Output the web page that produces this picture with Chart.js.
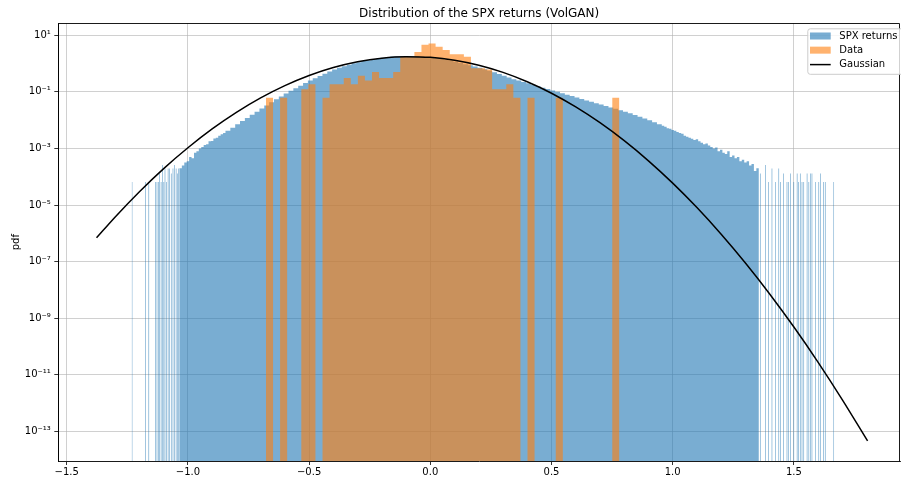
<!DOCTYPE html>
<html><head><meta charset="utf-8">
<script src="https://cdn.jsdelivr.net/npm/chart.js@4/dist/chart.umd.min.js"></script>
<style>html,body{margin:0;padding:0;background:#fff;}canvas{display:block;}</style>
</head><body>
<canvas id="c" width="901" height="481" style="width:901px;height:481px"></canvas>
<script>
// ---------------- data ----------------
const title = 'Distribution of the SPX returns (VolGAN)';
const seriesLabels = ['SPX returns', 'Data', 'Gaussian'];
const xTicks = [-1.5, -1.0, -0.5, 0.0, 0.5, 1.0, 1.5];
const yTickExponents = [-13, -11, -9, -7, -5, -3, -1, 1];

// SPX returns (VolGAN) histogram: isolated left-tail bins
const leftTailX = [-1.232,-1.176,-1.163,-1.1345,-1.129,-1.123,-1.118,-1.112,-1.107,-1.101,-1.096,-1.090,-1.083,-1.077,-1.070,-1.063,-1.057,-1.050,-1.045,-1.040];
const leftTailY = [6.5e-5,6.5e-5,6.5e-5,6.5e-5,6.5e-5,6.5e-5,1.3e-4,6.5e-5,2.6e-4,6.5e-5,1.95e-4,6.5e-5,1.95e-4,1.95e-4,1.3e-4,1.95e-4,2.6e-4,1.95e-4,1.3e-4,1.95e-4];
// main body: bin left edges and densities
const bodyX = [
 -1.035,-1.025,-1.015,-1.005,-0.995,-0.985,-0.975,-0.965,-0.955,-0.945,-0.935,-0.925,-0.915,-0.905,-0.895,-0.885,-0.875,-0.865,-0.855,
 -0.845,-0.825,-0.805,-0.785,-0.765,-0.745,-0.725,-0.705,-0.685,-0.665,-0.645,-0.625,-0.605,-0.585,-0.565,-0.545,-0.525,-0.505,-0.485,-0.465,
 -0.445,-0.425,-0.405,-0.385,-0.365,-0.345,-0.325,-0.305,-0.285,-0.265,-0.245,-0.225,-0.205,-0.185,-0.165,-0.145,-0.125,-0.105,-0.085,-0.065,
 -0.045,-0.025,-0.005,0.015,0.035,0.055,0.075,0.095,0.115,0.135,0.155,0.175,0.195,0.215,0.235,0.255,0.275,0.295,0.315,0.335,
 0.355,0.375,0.395,0.415,0.435,0.455,0.475,0.495,0.515,0.535,0.555,0.575,0.595,0.615,0.635,0.655,0.675,0.695,0.715,0.735,
 0.755,0.775,0.795,0.815,0.835,0.855,0.875,0.895,0.915,0.935,
 0.955,0.965,0.975,0.985,0.995,1.005,1.015,1.025,1.035,1.045,1.055,1.065,1.075,1.085,1.095,1.105,1.115,1.125,1.135,1.145,
 1.155,1.165,1.175,1.185,1.195,1.205,1.215,1.225,1.235,1.245,1.255,1.265,1.275,1.285,1.295,1.305,1.315,1.325,1.335,1.345];
const bodyY = [
 2.0e-4,2.5e-4,3.2e-4,3.5e-4,5.0e-4,4.5e-4,7.1e-4,7.9e-4,1.0e-3,1.12e-3,1.32e-3,1.41e-3,1.78e-3,1.82e-3,2.24e-3,2.4e-3,2.8e-3,3.2e-3,3.5e-3,
 4.2e-3,5.4e-3,7.1e-3,9.3e-3,0.012,0.0155,0.020,0.0257,0.033,0.0427,0.055,0.069,0.087,0.11,0.135,0.166,0.204,0.25,0.30,0.363,
 0.437,0.525,0.617,0.71,0.81,0.91,1.02,1.12,1.23,1.32,1.43,1.51,1.62,1.70,1.78,1.82,1.86,1.86,1.86,1.84,
 1.78,1.72,1.62,1.53,1.45,1.35,1.26,1.15,1.05,0.955,0.87,0.79,0.71,0.63,0.56,0.49,0.427,0.372,0.324,0.282,
 0.251,0.224,0.2,0.178,0.158,0.141,0.126,0.112,0.1,0.089,0.079,0.071,0.063,0.056,0.050,0.0447,0.0398,0.0355,0.0316,0.0282,
 0.0251,0.0224,0.02,0.0174,0.0151,0.0132,0.0115,0.01,0.0085,0.0072,
 6.3e-3,5.8e-3,5.2e-3,5.0e-3,4.5e-3,4.2e-3,3.8e-3,3.5e-3,3.3e-3,2.8e-3,2.6e-3,2.4e-3,2.2e-3,2.0e-3,2.1e-3,1.8e-3,1.6e-3,1.4e-3,1.5e-3,1.26e-3,
 1.12e-3,1.0e-3,1.07e-3,7.9e-4,8.9e-4,7.1e-4,6.3e-4,7.9e-4,5.0e-4,5.6e-4,4.5e-4,5.0e-4,3.5e-4,4.0e-4,3.2e-4,3.5e-4,2.5e-4,2.8e-4,1.6e-4,2.0e-4];
const bodyEnd = 1.355;
// isolated right-tail bins
const rightTailX = [1.360,1.381,1.394,1.408,1.422,1.436,1.443,1.456,1.470,1.477,1.484,1.498,1.512,1.518,1.525,1.532,1.539,1.553,1.560,1.567,1.573,1.587,1.601,1.608,1.621,1.628,1.663];
const rightTailY = [1.3e-4,2.6e-4,6.5e-5,1.95e-4,6.5e-5,1.95e-4,6.5e-5,1.3e-4,6.5e-5,6.5e-5,1.3e-4,6.5e-5,1.3e-4,6.5e-5,1.3e-4,6.5e-5,6.5e-5,1.3e-4,6.5e-5,1.3e-4,1.3e-4,6.5e-5,6.5e-5,1.3e-4,6.5e-5,6.5e-5,6.5e-5];
const tailBinWidth = 0.0029;

// Data histogram (50 bins)
const dataEdges = [-0.678,-0.6488,-0.6197,-0.5905,-0.5614,-0.5322,-0.5030,-0.4739,-0.4447,-0.4156,-0.3864,-0.3572,-0.3281,-0.2989,-0.2698,-0.2406,-0.2114,-0.1823,-0.1531,-0.1240,-0.0948,-0.0656,-0.0365,-0.0073,0.0218,0.0510,0.0802,0.1093,0.1385,0.1676,0.1968,0.2260,0.2551,0.2843,0.3134,0.3426,0.3718,0.4009,0.4301,0.4592,0.4884,0.5176,0.5467,0.5759,0.6050,0.6342,0.6634,0.6925,0.7217,0.7508,0.7800];
const dataDensity = [0.0624,0,0.0624,0,0,0.125,0.187,0,0.0624,0.187,0.187,0.312,0.187,0.374,0.25,0.5,0.312,0.312,0.5,1.75,1.75,2.56,4.68,5.18,3.93,3.0,2.12,2.12,1.75,0.69,0.69,0.62,0.125,0.125,0.187,0.0624,0,0.0624,0,0,0,0.0624,0,0,0,0,0,0,0,0.0624];

// Gaussian curve
const gaussX = [-1.377,-1.3,-1.2,-1.1,-1.0,-0.9,-0.8,-0.7,-0.6,-0.5,-0.4,-0.3,-0.2,-0.1,0.0,0.1,0.2,0.3,0.4,0.5,0.6,0.7,0.8,0.9,1.0,1.1,1.2,1.3,1.4,1.5,1.6,1.7,1.804];
const gaussY = [6.9e-7,3.79e-6,2.96e-5,1.94e-4,1.06e-3,4.9e-3,0.0189,0.0612,0.166,0.379,0.724,1.16,1.559,1.757,1.661,1.317,0.876,0.488,0.228,0.0896,0.0294,8.13e-3,1.88e-3,3.65e-4,5.94e-5,8.11e-6,9.28e-7,8.91e-8,7.18e-9,4.85e-10,2.75e-11,1.30e-12,4.55e-14];

// ---------------- build datasets ----------------
const FLOOR = 1e-17; // below the visible axis: an empty bin
const blueColor = 'rgba(31,119,180,0.6)';
const orangeColor = 'rgba(255,127,14,0.6)';

const bluePts = [];
leftTailX.forEach((x, i) => { bluePts.push({x, y: leftTailY[i]}); bluePts.push({x: x + tailBinWidth, y: FLOOR}); });
bodyX.forEach((x, i) => bluePts.push({x, y: bodyY[i]}));
bluePts.push({x: bodyEnd, y: FLOOR});
rightTailX.forEach((x, i) => { bluePts.push({x, y: rightTailY[i]}); bluePts.push({x: x + tailBinWidth, y: FLOOR}); });

const orangePts = dataDensity.map((d, i) => ({x: dataEdges[i], y: d > 0 ? d : FLOOR}));
orangePts.push({x: dataEdges[dataEdges.length - 1], y: FLOOR});

const gaussPts = gaussX.map((x, i) => ({x, y: gaussY[i]}));

const sup = {'-':'\u207B','0':'\u2070','1':'\u00B9','2':'\u00B2','3':'\u00B3','4':'\u2074','5':'\u2075','6':'\u2076','7':'\u2077','8':'\u2078','9':'\u2079'};
const toSup = s => String(s).split('').map(c => sup[c]).join('');

Chart.defaults.font.family = "'DejaVu Sans', sans-serif";
Chart.defaults.font.size = 10;
Chart.defaults.color = '#000';

const overlay = {
  id: 'overlay',
  afterDraw(chart) {
    const {ctx, chartArea: a} = chart;
    ctx.save();
    ctx.strokeStyle = '#000';
    ctx.lineWidth = 0.9;
    const l = Math.round(a.left) + 0.5, t = Math.round(a.top) + 0.5;
    const r = Math.round(a.right) - 0.5, b = Math.round(a.bottom) + 0.5;
    ctx.beginPath(); ctx.moveTo(l, b); ctx.lineTo(l, t); ctx.lineTo(r, t); ctx.lineTo(r, b); ctx.stroke();
    // legend (upper right)
    const bx = a.right - 92.7, by = a.top + 5;
    ctx.beginPath();
    ctx.roundRect(bx + 0.5, by + 0.5, 100, 45.5, 2.5);
    ctx.fillStyle = 'rgba(255,255,255,0.8)';
    ctx.fill();
    ctx.strokeStyle = '#cccccc'; ctx.lineWidth = 1; ctx.stroke();
    const ds = chart.data.datasets;
    const items = seriesLabels.map(lab => ds.find(d => d.label === lab));
    items.forEach((d, k) => {
      const cy = by + 7.7 + k * 14.15;
      if (d.fill) {
        ctx.fillStyle = d.backgroundColor;
        ctx.fillRect(bx + 2.7, cy - 3.5, 20.7, 7);
      } else {
        ctx.strokeStyle = d.borderColor; ctx.lineWidth = 1.5;
        ctx.beginPath(); ctx.moveTo(bx + 2.7, cy + 0.3); ctx.lineTo(bx + 23.4, cy + 0.3); ctx.stroke();
      }
      ctx.fillStyle = '#000';
      ctx.font = "10px 'DejaVu Sans'";
      ctx.textBaseline = 'middle';
      ctx.textAlign = 'left';
      ctx.fillText(d.label, bx + 32, cy);
    });
    ctx.restore();
  }
};

new Chart(document.getElementById('c'), {
  type: 'line',
  data: {
    datasets: [
      {label: seriesLabels[0], data: bluePts, stepped: 'before', fill: 'start', backgroundColor: blueColor, borderColor: 'transparent', borderWidth: 0, pointRadius: 0, order: 3, clip: 0},
      {label: seriesLabels[1], data: orangePts, stepped: 'before', fill: 'start', backgroundColor: orangeColor, borderColor: 'transparent', borderWidth: 0, pointRadius: 0, order: 2, clip: 0},
      {label: seriesLabels[2], data: gaussPts, fill: false, borderColor: '#000', borderWidth: 1.5, pointRadius: 0, cubicInterpolationMode: 'monotone', order: 1, clip: 0}
    ]
  },
  options: {
    responsive: false,
    animation: false,
    events: [],
    layout: {padding: {left: 0, right: 1, top: 0, bottom: 0}},
    scales: {
      x: {
        type: 'linear', min: -1.5347, max: 1.9377, z: 1,
        afterBuildTicks: s => { s.ticks = xTicks.map(v => ({value: v})); },
        afterFit: s => { s.height = 20; },
        ticks: {padding: 1.5, autoSkip: false, maxRotation: 0, callback: v => (v < 0 ? '\u2212' : '') + Math.abs(v).toFixed(1)},
        grid: {color: 'rgba(176,176,176,0.75)', lineWidth: 0.8, tickLength: 4, tickColor: '#000', tickWidth: 0.8},
        border: {display: true, color: '#000', width: 0.9}
      },
      y: {
        type: 'logarithmic', min: Math.pow(10, -14.05), max: Math.pow(10, 1.4242), z: 1,
        afterBuildTicks: s => { s.ticks = yTickExponents.map(e => ({value: Math.pow(10, e)})); },
        afterFit: s => { s.width = 58.3; },
        ticks: {padding: 3.5, autoSkip: false, callback: v => '10' + toSup(Math.round(Math.log10(v)))},
        grid: {color: 'rgba(176,176,176,0.75)', lineWidth: 0.8, tickLength: 4, tickColor: '#000', tickWidth: 0.8},
        border: {display: true, color: '#000', width: 0.9},
        title: {display: true, text: 'pdf', padding: {top: 10, bottom: 0}, font: {size: 10}}
      }
    },
    plugins: {
      legend: {display: false},
      tooltip: {enabled: false},
      title: {display: true, text: title, fullSize: false, font: {size: 12, weight: 'normal'}, color: '#000', padding: {top: 7, bottom: 1.9}}
    }
  },
  plugins: [overlay]
});
</script>
</body></html>
